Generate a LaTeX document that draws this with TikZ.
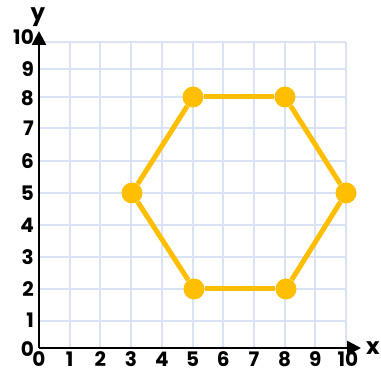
\documentclass[tikz,border=0pt]{standalone}
\usepackage{fontspec}
\setmainfont{Poppins}
\usetikzlibrary{arrows.meta}
\definecolor{gridblue}{RGB}{218,227,245}
\definecolor{hexorange}{RGB}{255,190,0}
\tikzset{
  gridline/.style={draw=gridblue,line width=2pt},
  axisline/.style={draw=black,line width=2.6pt,-{Triangle[length=14pt,width=14pt]}},
  ticklab/.style={font=\fontsize{20}{20}\selectfont\bfseries,text=black,inner sep=0pt},
  axislab/.style={font=\fontsize{23}{23}\selectfont\bfseries,text=black,inner sep=0pt},
  vertex/.style={circle,fill=hexorange,minimum size=21pt,inner sep=0pt},
  hexedge/.style={draw=hexorange,line width=5pt}
}
\begin{document}
\begin{tikzpicture}[x=1pt,y=-1pt]
\useasboundingbox (0,0) rectangle (381,374);
% grid
\foreach \xx in {69.7,100.4,131,161.8,192.5,223.2,253.9,284.6,315.3,346}
  \draw[gridline] (\xx,42) -- (\xx,348);
\foreach \yy in {42,69,97,128,161,193,225,257,289,321}
  \draw[gridline] (39,\yy) -- (346,\yy);
% axes
\coordinate (O) at (39,348);
\coordinate (xend) at (361,348);
\coordinate (yend) at (39,31);
\draw[axisline] (O) -- (xend);
\draw[axisline] (O) -- (yend);
\node[axislab] (xl) at (373,348) {x};
\node[axislab] (yl) at (38,17) {y};
% x tick labels
\foreach \i/\xx in {0/39,1/69.7,2/100.4,3/131,4/161.8,5/192.5,6/223.2,7/253.9,8/284.6,9/315.3,10/348}
  \node[ticklab,anchor=base] (xt\i) at (\xx,367) {\i};
% y tick labels
\foreach \i/\yy in {0/349,1/320,2/289,3/257,4/225,5/193,6/161,7/128,8/98,9/69,10/37}
  \node[ticklab,anchor=east] (yt\i) at (34,\yy) {\i};
% hexagon
\node[vertex] (A) at (193,97) {};
\node[vertex] (B) at (285,97) {};
\node[vertex] (C) at (346,193) {};
\node[vertex] (D) at (286,289) {};
\node[vertex] (E) at (194,289) {};
\node[vertex] (F) at (132,193) {};
\draw[hexedge] (A) -- (B);
\draw[hexedge] (B) -- (C);
\draw[hexedge] (C) -- (D);
\draw[hexedge] (D) -- (E);
\draw[hexedge] (E) -- (F);
\draw[hexedge] (F) -- (A);
\end{tikzpicture}
\end{document}
